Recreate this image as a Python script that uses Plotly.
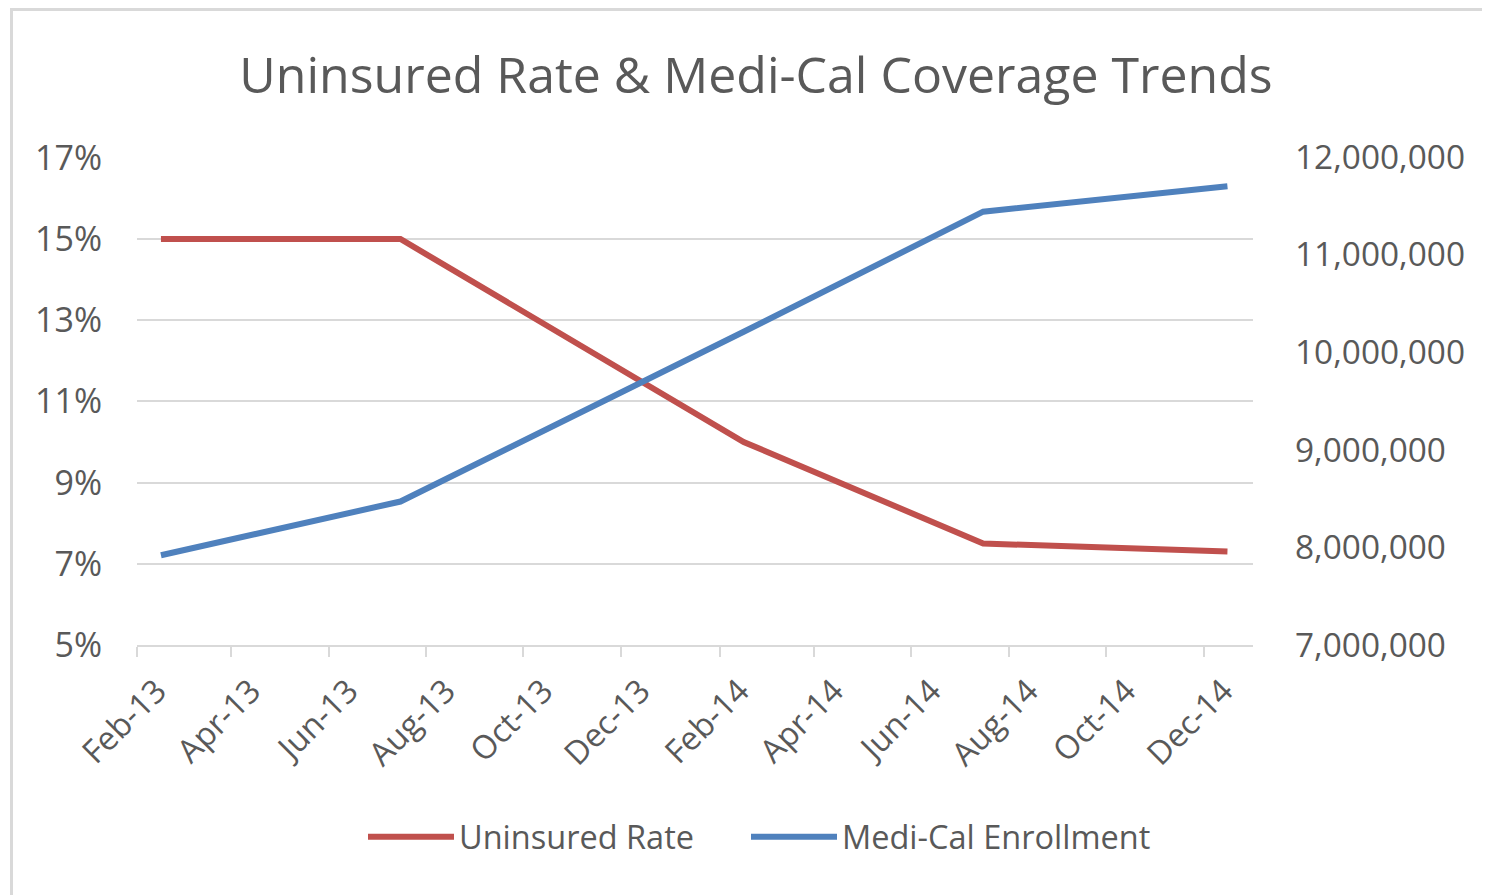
import plotly.graph_objects as go

# ---- data ----
months = ["2013-02-16", "2013-07-16", "2014-02-16", "2014-07-16", "2014-12-16"]
uninsured_rate = [0.15, 0.15, 0.10, 0.075, 0.073]
medi_cal_enrollment = [7920000, 8470000, 10210000, 11440000, 11700000]
tick_dates = ["2013-02-01", "2013-04-01", "2013-06-01", "2013-08-01", "2013-10-01", "2013-12-01",
              "2014-02-01", "2014-04-01", "2014-06-01", "2014-08-01", "2014-10-01", "2014-12-01"]
tick_labels = ["Feb-13", "Apr-13", "Jun-13", "Aug-13", "Oct-13", "Dec-13",
               "Feb-14", "Apr-14", "Jun-14", "Aug-14", "Oct-14", "Dec-14"]

FONT = "Open Sans"
TXT = "#595959"
GRID = "#D9D9D9"

fig = go.Figure()
fig.add_trace(go.Scatter(x=months, y=uninsured_rate, name="Uninsured Rate", mode="lines",
                         line=dict(color="#C0504D", width=6), yaxis="y", legend="legend"))
fig.add_trace(go.Scatter(x=months, y=medi_cal_enrollment, name="Medi-Cal Enrollment", mode="lines",
                         line=dict(color="#4F81BD", width=6), yaxis="y2", legend="legend2"))

OFF = 8                      # page body margin
W, H = 1490 - OFF, 895 - OFF  # figure size
L, R, T, B = 137, 1253, 157, 645   # plot area in screen pixels

def px(xp):
    return (xp - L) / (R - L)

def py(yp):
    return (B - yp) / (B - T)

LEG_D = 5  # legend box left edge to line sample start
leg_common = dict(orientation="h", xanchor="left", y=py(837), yanchor="middle",
                  font=dict(family=FONT, size=32.5, color=TXT), bgcolor="rgba(0,0,0,0)",
                  itemwidth=86)

frame_path = (f"M {px(11.5):.5f},{py(920):.5f} L {px(11.5):.5f},{py(OFF + 1.5):.5f} "
              f"L {px(1600):.5f},{py(OFF + 1.5):.5f}")

fig.update_layout(
    width=W, height=H,
    margin=dict(l=L - OFF, r=W - (R - OFF), t=T - OFF, b=H - (B - OFF), pad=0),
    paper_bgcolor="white", plot_bgcolor="white",
    font=dict(family=FONT, color=TXT, size=32),
    title=dict(text="Uninsured Rate & Medi-Cal Coverage Trends", x=(756 - OFF) / W, xanchor="center",
               y=1 - (75 - OFF) / H, yanchor="middle", font=dict(family=FONT, size=50, color=TXT)),
    showlegend=True,
    legend=dict(x=px(368 - LEG_D), **leg_common),
    legend2=dict(x=px(751 - LEG_D), **leg_common),
    xaxis=dict(type="date", range=["2013-02-01", "2015-01-01"], tickvals=tick_dates, ticktext=tick_labels,
               tickangle=-45, ticks="outside", ticklen=10, tickcolor=GRID, tickwidth=1.5,
               showline=True, linecolor=GRID, linewidth=1.5, showgrid=False, zeroline=False,
               tickfont=dict(family=FONT, size=32.5, color=TXT), ticklabelshift=20, ticklabelstandoff=2),
    yaxis=dict(range=[0.05, 0.1702], dtick=0.02, tick0=0.05, tickformat=".0%", showgrid=True, gridcolor=GRID,
               gridwidth=1.5, zeroline=False, showline=False, ticks="",
               tickfont=dict(family=FONT, size=34, color=TXT), ticklabelstandoff=34),
    yaxis2=dict(range=[7000000, 12000000], dtick=1000000, tick0=7000000, tickformat=",", overlaying="y",
                side="right", showgrid=False, zeroline=False, showline=False, ticks="",
                tickfont=dict(family=FONT, size=33.4, color=TXT), ticklabelstandoff=41),
    shapes=[dict(type="path", xref="paper", yref="paper", path=frame_path,
                 line=dict(color=GRID, width=3), layer="below")],
)

fig.write_html("out.html")
